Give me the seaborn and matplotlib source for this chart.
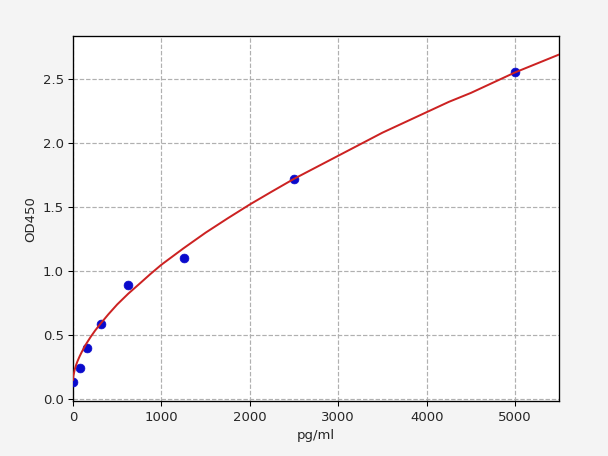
import seaborn as sns
import pandas as pd
import matplotlib.pyplot as plt

# standard points
conc = [0, 78, 156, 312, 625, 1250, 2500, 5000]
od = [0.135, 0.245, 0.40, 0.59, 0.89, 1.10, 1.72, 2.55]

# fitted curve
curve_x = [0, 5, 10, 20, 35, 50, 75, 100, 150, 200, 250, 300, 400, 500,
           625, 750, 875, 1000, 1250, 1500, 1750, 2000, 2250, 2500, 2750,
           3000, 3250, 3500, 3750, 4000, 4250, 4500, 4750, 5000, 5250, 5500]
curve_y = [0.15, 0.186, 0.20, 0.233, 0.267, 0.295, 0.335, 0.37, 0.433,
           0.487, 0.536, 0.58, 0.663, 0.74, 0.824, 0.90, 0.977, 1.05,
           1.178, 1.30, 1.412, 1.52, 1.621, 1.72, 1.81, 1.90, 1.99, 2.08,
           2.16, 2.24, 2.32, 2.39, 2.47, 2.55, 2.62, 2.69]

sns.set_style("ticks")
fig = plt.figure(figsize=(6.4, 4.8), dpi=95, facecolor="#f4f4f4")
ax = fig.add_axes([0.12, 0.12, 0.8, 0.8])

pts = pd.DataFrame({"pg/ml": conc, "OD450": od})
crv = pd.DataFrame({"pg/ml": curve_x, "OD450": curve_y})

sns.scatterplot(data=pts, x="pg/ml", y="OD450", ax=ax, color="#0a0acc",
                s=45, edgecolor="#0a0acc", linewidth=0.5, zorder=3)
sns.lineplot(data=crv, x="pg/ml", y="OD450", ax=ax, color="#cc2222",
             linewidth=1.5, zorder=4)

ax.set_xlim(0, 5500)
ax.set_ylim(-0.015, 2.83)
ax.set_xticks([0, 1000, 2000, 3000, 4000, 5000])
ax.set_yticks([0.0, 0.5, 1.0, 1.5, 2.0, 2.5])
ax.grid(True, linestyle="--", color="#b0b0b0", linewidth=0.9)
for s in ax.spines.values():
    s.set_color("black")
    s.set_linewidth(1.0)
ax.tick_params(labelsize=10, length=3.5, color="black")
ax.set_xlabel("pg/ml", fontsize=10)
ax.set_ylabel("OD450", fontsize=10)

fig.savefig("out.png", dpi=95, facecolor=fig.get_facecolor())
